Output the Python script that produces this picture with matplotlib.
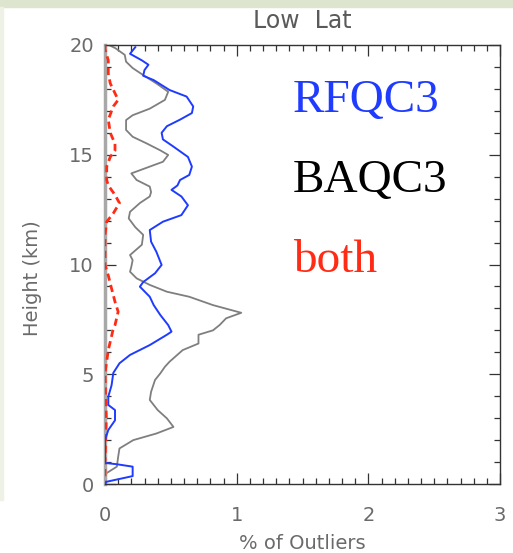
import numpy as np
import matplotlib
matplotlib.use('Agg')
import matplotlib.pyplot as plt
from matplotlib.ticker import MultipleLocator
from matplotlib.patches import Rectangle

# RFQC3 outlier profile (% vs km)
rf_height = [19.9, 19.6, 19.3, 19.1, 18.86, 18.6, 18.4, 17.95, 17.65, 17.2, 16.9, 16.6,
             16.3, 16.0, 15.7, 15.37, 14.9, 14.46, 14.08, 13.85, 13.6, 13.4, 13.1, 12.7,
             12.25, 11.95, 11.57, 11.04, 10.58, 9.98, 9.6, 9.2, 8.99, 8.53, 8.15, 7.7,
             7.24, 6.94, 6.8, 6.33, 5.88, 5.5, 5.06, 4.5, 3.98, 3.6, 3.37, 2.9, 2.46,
             2.0, 0.96, 0.9, 0.79, 0.36, 0.1, 0.0]
rf_pct = [0.23, 0.19, 0.28, 0.33, 0.30, 0.29, 0.37, 0.49, 0.62, 0.67, 0.66, 0.57,
          0.47, 0.43, 0.44, 0.52, 0.63, 0.66, 0.64, 0.57, 0.55, 0.505, 0.58, 0.63,
          0.58, 0.44, 0.34, 0.35, 0.39, 0.43, 0.38, 0.29, 0.265, 0.34, 0.37, 0.42,
          0.48, 0.505, 0.47, 0.34, 0.19, 0.11, 0.063, 0.05, 0.025, 0.025, 0.076, 0.076,
          0.025, 0.0, 0.0, 0.09, 0.21, 0.21, 0.01, 0.0]

# BAQC3
ba_height = [20.0, 19.85, 19.55, 19.24, 18.95, 18.63, 18.25, 17.87, 17.5, 17.1, 16.8,
             16.58, 16.13, 15.82, 15.52, 15.2, 14.99, 14.68, 14.46, 14.15, 13.85, 13.55,
             13.3, 13.1, 12.8, 12.4, 12.1, 11.7, 11.35, 10.9, 10.43, 10.2, 9.9, 9.67,
             9.37, 9.07, 8.76, 8.53, 8.15, 7.8, 7.55, 7.24, 7.0, 6.8, 6.4, 6.1, 5.57,
             5.34, 5.04, 4.74, 4.2, 3.83, 3.37, 2.99, 2.6, 2.3, 2.0, 1.62, 1.24, 0.79,
             0.49, 0.0]
ba_pct = [0.03, 0.08, 0.15, 0.16, 0.21, 0.29, 0.39, 0.48, 0.455, 0.34, 0.21,
          0.16, 0.16, 0.21, 0.315, 0.42, 0.48, 0.44, 0.34, 0.2, 0.24, 0.34,
          0.35, 0.34, 0.265, 0.19, 0.18, 0.23, 0.29, 0.28, 0.19, 0.21, 0.2, 0.19,
          0.24, 0.34, 0.47, 0.64, 0.82, 1.035, 0.92, 0.87, 0.82, 0.71, 0.71, 0.59, 0.49,
          0.455, 0.42, 0.38, 0.35, 0.34, 0.40, 0.47, 0.52, 0.39, 0.215, 0.11, 0.10, 0.09,
          0.01, 0.0]

# flagged by both
both_height = [20.0, 19.8, 19.3, 18.7, 18.25, 17.8, 17.5, 17.2, 16.6, 16.0, 15.5, 15.2,
               14.9, 14.46, 13.85, 13.6, 13.17, 12.8, 12.33, 11.95, 11.35, 9.98, 9.5,
               8.9, 8.3, 7.85, 7.24, 7.0, 6.1, 5.04, 4.0, 3.0, 2.0, 1.0, 0.0]
both_pct = [0.0, 0.0, 0.025, 0.025, 0.04, 0.076, 0.10, 0.063, 0.025, 0.04, 0.076, 0.076,
            0.04, 0.013, 0.013, 0.025, 0.076, 0.11, 0.063, 0.013, 0.0, 0.0, 0.025,
            0.05, 0.076, 0.10, 0.076, 0.06, 0.025, 0.0, 0.005, 0.01, 0.005, 0.0, 0.0]

labels = ['RFQC3', 'BAQC3', 'both']
colors = ['#1f3bff', '#7f7f7f', '#ff2b14']
text_colors = ['#1f3bff', 'black', '#ff2b14']

W, H = 513, 553
fig = plt.figure(figsize=(W / 100, H / 100), dpi=100)
fig.patches.append(Rectangle((0, 1 - 7 / H), 1, 7 / H, transform=fig.transFigure,
                             color='#dde5cf', zorder=0))
fig.patches.append(Rectangle((0, 1 - 500 / H), 3 / W, 493 / H, transform=fig.transFigure,
                             color='#eef1e6', zorder=0))

ax = fig.add_axes([105 / W, 1 - 484 / H, 395 / W, 439 / H])
ax.plot(both_pct, both_height, color=colors[2], lw=2.0, dashes=(2.6, 1.6), zorder=3)
ax.plot(ba_pct, ba_height, color=colors[1], lw=1.3, zorder=2)
ax.plot(rf_pct, rf_height, color=colors[0], lw=1.4, zorder=4)

ax.set_xlim(0, 3)
ax.set_ylim(0, 20)
ax.xaxis.set_major_locator(MultipleLocator(1))
ax.xaxis.set_minor_locator(MultipleLocator(0.1))
ax.yaxis.set_major_locator(MultipleLocator(5))
ax.yaxis.set_minor_locator(MultipleLocator(1))
ax.tick_params(which='both', direction='in', top=True, right=True, color='#333333',
               labelcolor='#6a6a6a', labelsize=14, width=0.9)
ax.tick_params(which='major', length=8)
ax.tick_params(which='minor', length=4)
ax.tick_params(axis='x', which='major', pad=16)
ax.tick_params(axis='y', which='major', pad=8)
for s in ['top', 'right', 'bottom']:
    ax.spines[s].set_color('#333333')
    ax.spines[s].set_linewidth(1.0)
ax.spines['left'].set_color('#a8a8a8')
ax.spines['left'].set_linewidth(2.5)

ax.set_title('Low  Lat', color='#5a5a5a', fontsize=17, pad=12)
ax.set_xlabel('% of Outliers', color='#6a6a6a', fontsize=14, labelpad=6)
ax.set_ylabel('Height (km)', color='#6a6a6a', fontsize=14)
ax.yaxis.set_label_coords(-0.16, 0.47)

for i, (lab, c) in enumerate(zip(labels, text_colors)):
    ax.text(293 / W, 1 - (112 + i * 80) / H, lab, transform=fig.transFigure,
            family='Liberation Serif', fontsize=34, color=c, va='baseline', ha='left')

fig.savefig('out.png', dpi=100)
